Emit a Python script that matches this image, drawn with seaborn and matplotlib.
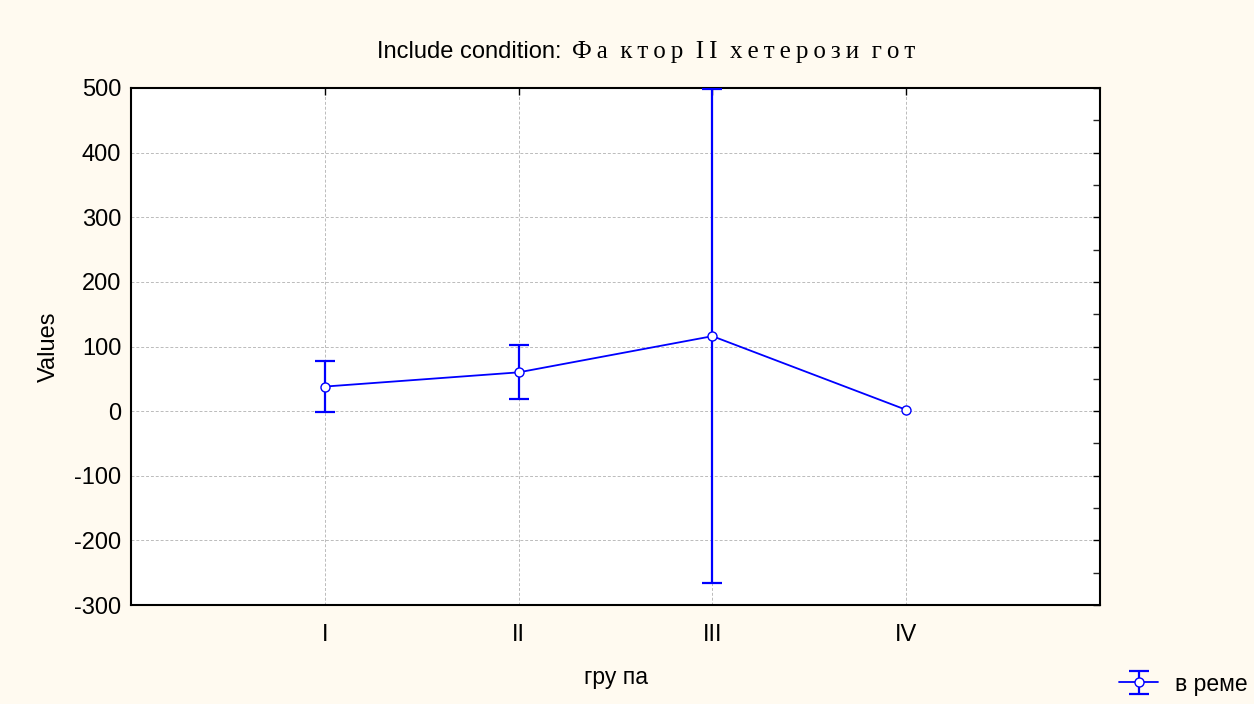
import matplotlib
matplotlib.use("Agg")
import matplotlib.pyplot as plt
import seaborn as sns
import pandas as pd
import numpy as np
from matplotlib.ticker import MultipleLocator
from matplotlib.lines import Line2D

# Group means and error half-widths
groups = ["I", "II", "III", "IV"]
means = [38, 60, 116, 2]
errors = [40, 42, 382, 0]

y_ticks = [-300, -200, -100, 0, 100, 200, 300, 400, 500]

df = pd.DataFrame({"pos": np.arange(1, len(groups) + 1), "group": groups,
                   "mean": means, "err": errors})

sns.set_style("white")
plt.rcParams["font.family"] = ["Liberation Sans", "DejaVu Sans"]
plt.rcParams["text.color"] = "black"
plt.rcParams["axes.labelcolor"] = "black"

BLUE = "#0000FF"
BG = "#FFFAF0"

fig = plt.figure(figsize=(12.54, 7.04), dpi=100, facecolor=BG)
ax = fig.add_axes([131 / 1254, 1 - 605 / 704, (1100 - 131) / 1254, (605 - 88) / 704])
ax.set_facecolor("white")

sns.lineplot(data=df, x="pos", y="mean", ax=ax, color=BLUE, linewidth=1.3,
             marker="o", markersize=6.5, markerfacecolor="white",
             markeredgecolor=BLUE, markeredgewidth=1, zorder=4)

eb_df = df[df["err"] > 0]
eb = ax.errorbar(eb_df["pos"], eb_df["mean"], yerr=eb_df["err"], fmt="none",
                 ecolor=BLUE, elinewidth=1.6, capsize=7.5, capthick=1.6, zorder=3)

ax.set_xlim(0, 5)
ax.set_ylim(-300, 500)
ax.set_xticks(df["pos"])
ax.set_xticklabels(groups)
ax.set_yticks(y_ticks)
ax.set_yticklabels([str(v) for v in y_ticks])
ax.yaxis.set_minor_locator(MultipleLocator(50))

ax.grid(True, which="major", color="#BBBBBB", linestyle=(0, (3, 2)), linewidth=0.7)
for s in ax.spines.values():
    s.set_color("black")
    s.set_linewidth(1.5)

ax.tick_params(axis="both", which="major", direction="in", length=5, width=1,
               labelsize=17, colors="black", top=True, right=True, pad=7)
ax.tick_params(axis="y", which="minor", direction="in", length=5, width=1,
               left=False, right=True)
ax.tick_params(axis="x", which="major", pad=14)

ax.set_xlabel("гру па", fontsize=16.5, labelpad=14)
ax.set_ylabel("Values", fontsize=17, labelpad=10)

# Two-part title: sans prefix, letter-spaced serif condition text
fig.text(568 / 1254, 1 - 52 / 704, "Include condition: ", ha="right", va="center",
         fontsize=17, family="Liberation Sans")
fig.text(572 / 1254, 1 - 52 / 704,
         "Ф\u2009а\u2002к\u2009т\u2009о\u2009р\u2002I\u2009I\u2002х\u2009е\u2009т\u2009е\u2009р\u2009о\u2009з\u2009и\u2002г\u2009о\u2009т",
         ha="left", va="center", fontsize=18, family="Liberation Serif")

# Legend entry
handle = (eb, Line2D([], [], color=BLUE, marker="o", markerfacecolor="white",
                     markeredgecolor=BLUE, linewidth=1.3, markersize=6.5))
fig.legend([handle], ["в реме"], loc="center right",
           bbox_to_anchor=(1.008, 1 - 684 / 704), frameon=False,
           fontsize=16.5, handlelength=1.7, handletextpad=0.75, borderpad=0.2)

fig.savefig("out.png", dpi=100, facecolor=BG)
